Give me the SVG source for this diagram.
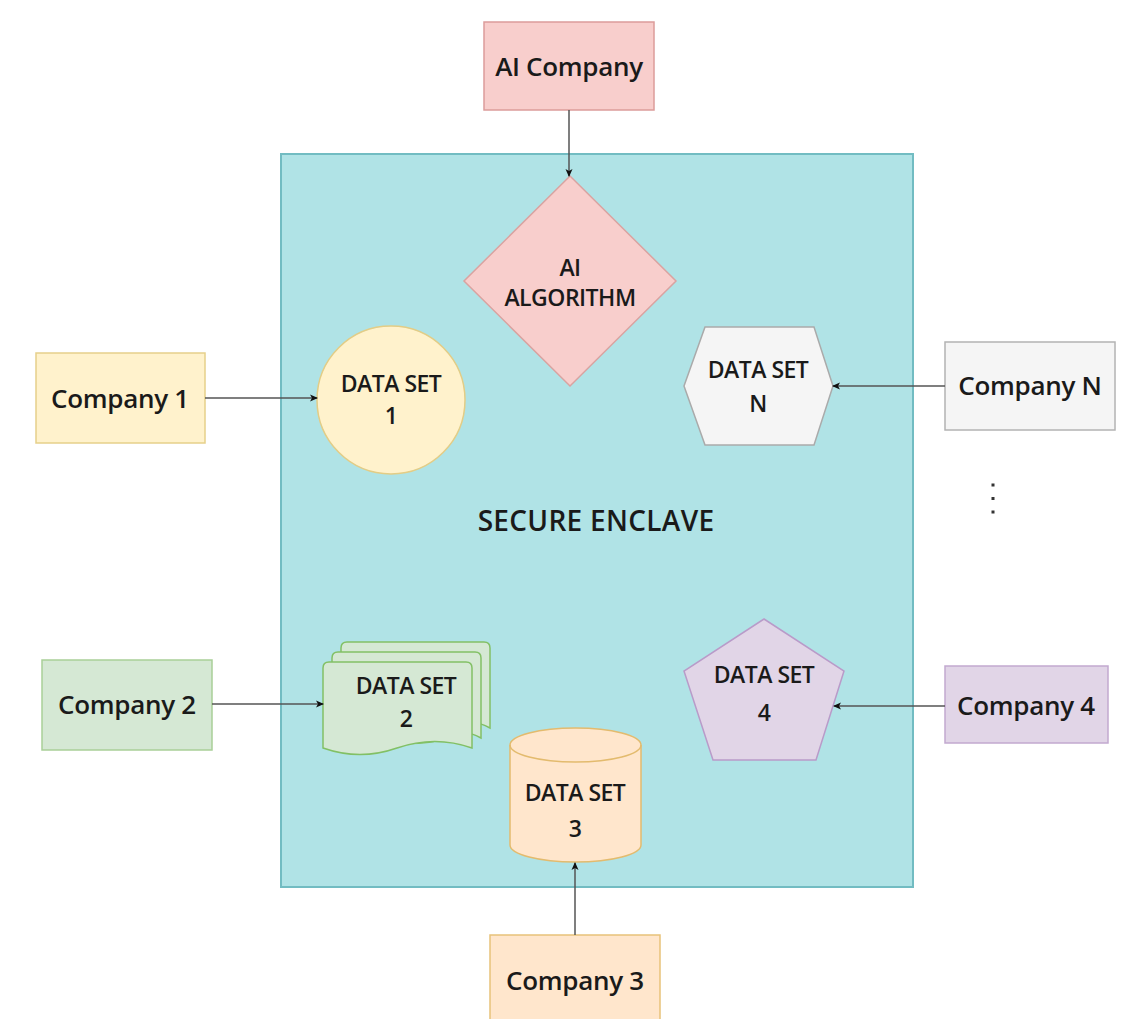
<svg xmlns="http://www.w3.org/2000/svg" width="1133" height="1019" viewBox="0 0 1133 1019">
<defs>
<marker id="arr" markerWidth="10" markerHeight="10" refX="8" refY="5" orient="auto" markerUnits="userSpaceOnUse">
<path d="M1,1.5 L9,5 L1,8.5 L3,5 Z" fill="#111"/>
</marker>
</defs>
<style>
text{font-family:"Open Sans","Liberation Sans",sans-serif;fill:#1a1a1a;text-anchor:middle;font-weight:600}
.lbl{font-size:26px;letter-spacing:-0.3px}
.ds{font-size:23px;letter-spacing:-0.5px}
.conn{stroke:#555;stroke-width:1.5;fill:none;marker-end:url(#arr)}
</style>
<rect width="1133" height="1019" fill="#fff"/>
<g id="enclave">
<rect x="281" y="154" width="632" height="733" fill="#b0e3e6" stroke="#72bcc2" stroke-width="2"/>
<text x="596" y="531" style="font-size:28px;letter-spacing:0.3px">SECURE ENCLAVE</text>
</g>
<g id="ai-company">
<rect x="484" y="22" width="170" height="88" fill="#f8cecc" stroke="#dc9c9a" stroke-width="1.5"/>
<text class="lbl" x="569" y="76">AI Company</text>
</g>
<g id="ai-algorithm">
<polygon points="570,176 676,281 570,386 464,281" fill="#f8cecc" stroke="#d9a3a1" stroke-width="1.5"/>
<text class="ds" x="570" y="276">AI</text>
<text class="ds" x="570" y="306">ALGORITHM</text>
</g>
<g id="company1">
<rect x="36" y="353" width="169" height="90" fill="#fff2cc" stroke="#e6d08a" stroke-width="1.5"/>
<text class="lbl" x="120" y="408">Company 1</text>
</g>
<g id="dataset1">
<circle cx="391" cy="400" r="74" fill="#fff2cc" stroke="#e3cd86" stroke-width="1.5"/>
<text class="ds" x="391" y="392">DATA SET</text>
<text class="ds" x="391" y="424">1</text>
</g>
<g id="companyN">
<rect x="945" y="342" width="170" height="88" fill="#f5f5f5" stroke="#b3b3b3" stroke-width="1.5"/>
<text class="lbl" x="1030" y="395">Company N</text>
</g>
<g id="datasetN">
<polygon points="684,386 705,327 814,327 833,386 814,445 705,445" fill="#f5f5f5" stroke="#aaaaaa" stroke-width="1.5"/>
<text class="ds" x="758" y="378">DATA SET</text>
<text class="ds" x="758" y="412">N</text>
</g>
<g id="dots" fill="#333">
<rect x="991.5" y="483.5" width="3" height="3"/>
<rect x="991.5" y="497" width="3" height="3"/>
<rect x="991.5" y="510.5" width="3" height="3"/>
</g>
<g id="company2">
<rect x="42" y="660" width="170" height="90" fill="#d5e8d4" stroke="#a9cf98" stroke-width="1.5"/>
<text class="lbl" x="127" y="714">Company 2</text>
</g>
<g id="dataset2" fill="#d5e8d4" stroke="#82c065" stroke-width="1.5">
<path d="M347,642 H484 Q490,642 490,648 V728 Q471,717 452,728 Q433,739 341,728 V648 Q341,642 347,642 Z"/>
<path d="M338,652 H475 Q481,652 481,658 V738 Q462,727 443,738 Q424,749 332,738 V658 Q332,652 338,652 Z"/>
<path d="M329,662 H466 Q472,662 472,668 V748 Q435,735 397,748 Q360,761 323,748 V668 Q323,662 329,662 Z"/>
<text class="ds" x="406" y="694" stroke="none" fill="#1a1a1a">DATA SET</text>
<text class="ds" x="406" y="727" stroke="none" fill="#1a1a1a">2</text>
</g>
<g id="dataset3">
<path d="M510,745 A65.5,17 0 0 1 641,745 V845 A65.5,17 0 0 1 510,845 Z" fill="#ffe6cc" stroke="#e3bb6e" stroke-width="1.5"/>
<path d="M510,745 A65.5,17 0 0 0 641,745" fill="none" stroke="#e3bb6e" stroke-width="1.5"/>
<text class="ds" x="575" y="801">DATA SET</text>
<text class="ds" x="575" y="837">3</text>
</g>
<g id="company3">
<rect x="490" y="935" width="170" height="95" fill="#ffe6cc" stroke="#e8c27a" stroke-width="1.5"/>
<text class="lbl" x="575" y="990">Company 3</text>
</g>
<g id="company4">
<rect x="945" y="666" width="163" height="77" fill="#e1d5e7" stroke="#c2a9cf" stroke-width="1.5"/>
<text class="lbl" x="1026" y="715">Company 4</text>
</g>
<g id="dataset4">
<polygon points="764,619 844,671 816,760 713,760 684,671" fill="#e1d5e7" stroke="#b99bc9" stroke-width="1.5"/>
<text class="ds" x="764" y="683">DATA SET</text>
<text class="ds" x="764" y="721">4</text>
</g>
<g id="connectors">
<line class="conn" x1="569" y1="110" x2="569" y2="176"/>
<line class="conn" x1="205" y1="398" x2="317" y2="398"/>
<line class="conn" x1="945" y1="386" x2="833" y2="386"/>
<line class="conn" x1="212" y1="704" x2="323" y2="704"/>
<line class="conn" x1="945" y1="706" x2="834" y2="706"/>
<line class="conn" x1="575" y1="935" x2="575" y2="863"/>
</g>
</svg>
